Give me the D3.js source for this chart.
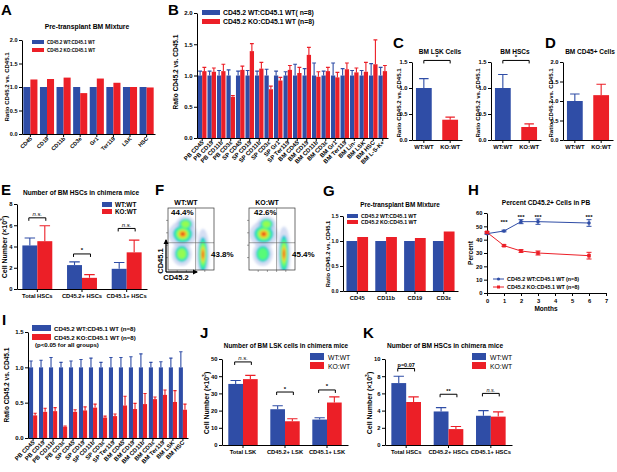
<!DOCTYPE html>
<html>
<head>
<meta charset="utf-8">
<script src="https://cdn.jsdelivr.net/npm/d3@7"></script>
<style>
  body { margin: 0; background: #fff; }
  svg { font-family: "Liberation Sans", Arial, sans-serif; font-weight: bold; }
</style>
</head>
<body>
<script>
// ---------- data ----------
var aCats = ["CD45", "CD19", "CD11b", "CD3e", "Gr1", "Ter119", "LSK", "HSC"];
var aWT = [1, 1, 1, 1, 1, 1, 1, 1];
var aKO = [1.16, 1.17, 1.20, 0.87, 1.18, 1.09, 1.00, 0.99];

var bCats = ["PB CD45", "PB CD19", "PB CD11b", "PB CD3ε", "SP CD45", "SP CD19", "SP CD11b", "SP CD3ε",
  "SP Gr1", "SP Ter119", "BM CD45", "BM CD19", "BM CD11b", "BM CD3ε", "BM Gr1", "BM Ter119",
  "BM Lin-", "BM LSK", "BM HSC", "BM L-S-K+"];
var bWT = [1, 1, 1, 1, 1, 1, 1, 1, 1, 1, 1, 1, 1, 1, 1, 1, 1, 1, 1, 1];
var bWTsem = [0.07, 0.07, 0.08, 0.09, 0.07, 0.08, 0.07, 0.10, 0.07, 0.06, 0.18, 0.11, 0.20, 0.07, 0.20, 0.11, 0.08, 0.08, 0.19, 0.13];
var bKO = [1.07, 1.06, 1.07, 0.66, 1.09, 1.39, 1.11, 0.78, 0.92, 1.09, 1.04, 1.33, 0.98, 1.07, 0.97, 1.10, 1.05, 1.06, 1.18, 1.07];
var bKOsem = [0.06, 0.06, 0.11, 0.02, 0.06, 0.12, 0.10, 0.05, 0.05, 0.07, 0.09, 0.12, 0.08, 0.06, 0.08, 0.10, 0.07, 0.15, 0.39, 0.09];

var cGroups = ["WT:WT", "KO:WT"];
var cLsk = [1.0, 0.39], cLskSem = [0.18, 0.05];
var cHsc = [1.0, 0.25], cHscSem = [0.26, 0.06];
var dCd45 = [1.0, 1.15], dCd45Sem = [0.18, 0.28];

var eCats = ["Total HSCs", "CD45.2+ HSCs", "CD45.1+ HSCs"];
var eWT = [4.1, 2.25, 1.9], eWTsem = [0.7, 0.3, 0.6];
var eKO = [4.5, 1.05, 3.45], eKOsem = [1.45, 0.3, 1.15];
var eSig = ["n.s.", "*", "n.s."], eSigY = [6.7, 3.3, 5.7];

// flow plots: blobs are [x, y, rx, ry, peak] in log decades
var fPlots = [
  { title: "WT:WT", ul: "44.4%", lr: "43.8%",
    blobs: [[1.6, 2.9, 1.2, 0.8, 1], [1.9, 3.7, 0.8, 0.5, 0.55], [1.5, 1.3, 0.85, 0.75, 0.45], [3.8, 1.25, 0.55, 1.6, 0.9]] },
  { title: "KO:WT", ul: "42.6%", lr: "45.4%",
    blobs: [[1.6, 2.9, 1.2, 0.8, 1], [1.9, 3.7, 0.8, 0.5, 0.5], [1.5, 1.3, 0.85, 0.75, 0.4], [3.8, 1.3, 0.55, 1.7, 0.95]] }
];
var fGate = [3.0, 2.2];

var gCats = ["CD45", "CD11b", "CD19", "CD3ε"];
var gWT = [1, 1, 1, 1];
var gKO = [1.08, 1.08, 1.06, 1.19];

var hMonths = [0, 1, 2, 3, 6];
var hWT = [44.5, 46.5, 53.5, 53.5, 52.5], hWTsem = [0.5, 0.6, 1.5, 2, 2.5];
var hKO = [45.5, 35.5, 31.5, 30, 28], hKOsem = [0.6, 0.6, 1, 1.5, 2.5];
var hStars = [null, 54, 57.5, 57.5, 57.5];

var iCats = ["PB CD45", "PB CD19", "PB CD11b", "PB CD3ε", "SP CD45", "SP CD19", "SP CD11b", "SP CD3ε",
  "SP Ter119", "BM CD45", "BM CD19", "BM CD11b", "BM CD3ε", "BM Ter119", "BM LSK", "BM HSC"];
var iWT = [1, 1, 1, 1, 1, 1, 1, 1, 1, 1, 1, 1, 1, 1, 1, 1];
var iWTsem = [0.09, 0.10, 0.14, 0.07, 0.09, 0.11, 0.13, 0.07, 0.14, 0.14, 0.15, 0.19, 0.07, 0.08, 0.13, 0.22];
var iKO = [0.32, 0.37, 0.38, 0.16, 0.37, 0.39, 0.43, 0.29, 0.31, 0.46, 0.41, 0.48, 0.55, 0.61, 0.51, 0.40];
var iKOsem = [0.03, 0.05, 0.05, 0.01, 0.03, 0.05, 0.05, 0.02, 0.03, 0.13, 0.08, 0.15, 0.03, 0.07, 0.16, 0.08];

var jCats = ["Total LSK", "CD45.2+ LSK", "CD45.1+ LSK"];
var jWT = [35.5, 20.8, 14.8], jWTsem = [2, 2, 1];
var jKO = [38.3, 13.8, 24.7], jKOsem = [2.2, 1.5, 3.3];
var jSig = ["n.s.", "*", "*"], jSigY = [48.3, 30.8, 32];

var kCats = ["Total HSCs", "CD45.2+ HSCs", "CD45.1+ HSCs"];
var kWT = [7.2, 3.9, 3.4], kWTsem = [0.8, 0.45, 0.6];
var kKO = [5.0, 1.85, 3.3], kKOsem = [0.6, 0.3, 0.55];
var kSig = ["p=0.07", "**", "n.s."], kSigY = [8.9, 5.9, 6.0];

var BLUE = "#2f4da6", RED = "#ec1f27";

var svg = d3.select("body").append("svg").attr("width", 617).attr("height", 472);

// ---------- helpers ----------
function txt(t, x, y, fs, anchor, rot, weight) {
  var el = svg.append("text").attr("x", x).attr("y", y).attr("font-size", fs)
    .attr("text-anchor", anchor || "start").text(t);
  if (rot) el.attr("transform", "rotate(" + rot + "," + x + "," + y + ")");
  if (weight) el.attr("font-weight", weight);
  return el;
}

function cellLabel(x, y) {
  var el = svg.append("text").attr("font-size", 7).attr("text-anchor", "middle")
    .attr("transform", "translate(" + x + "," + y + ") rotate(-90)");
  el.append("tspan").text("Cell Number (×10");
  el.append("tspan").attr("font-size", 5).attr("dy", -3).text("3");
  el.append("tspan").attr("dy", 3).text(")");
}

function bars(o) {
  var g = svg.append("g");
  var x = d3.scaleBand().domain(o.cats).range(o.xr).paddingInner(o.pi).paddingOuter(o.po);
  var y = d3.scaleLinear().domain([0, o.ymax]).range(o.yr);
  var bw = x.bandwidth() / o.series.length;
  o.series.forEach(function(s, k) {
    var col = function(i) { return Array.isArray(s.c) ? s.c[i] : s.c; };
    var cx = function(i) { return x(o.cats[i]) + k * bw + bw / 2; };
    g.selectAll(null).data(s.v).join("rect")
      .attr("x", function(d, i) { return x(o.cats[i]) + k * bw; })
      .attr("y", function(d) { return y(d); })
      .attr("width", bw)
      .attr("height", function(d) { return y(0) - y(d); })
      .attr("fill", function(d, i) { return col(i); });
    if (s.e) {
      g.selectAll(null).data(s.e).join("path")
        .attr("d", function(d, i) {
          var t = y(s.v[i] + d), w = bw * (o.cap || 0.3);
          return "M" + cx(i) + "," + y(s.v[i]) + "V" + t + "M" + (cx(i) - w) + "," + t + "H" + (cx(i) + w);
        })
        .attr("stroke", function(d, i) { return col(i); })
        .attr("stroke-width", 1.1).attr("fill", "none");
    }
  });
  var ya = g.append("g").attr("transform", "translate(" + o.xr[0] + ",0)")
    .call(d3.axisLeft(y).tickValues(o.ticks).tickFormat(o.fmt || d3.format(".1f")).tickSize(3).tickSizeOuter(0));
  var xa = g.append("g").attr("transform", "translate(0," + o.yr[0] + ")")
    .call(d3.axisBottom(x).tickSize(3).tickSizeOuter(0));
  [ya, xa].forEach(function(a) {
    a.attr("font-family", null).attr("font-size", o.fs || 6);
    a.select(".domain").attr("stroke-width", 1);
  });
  ya.selectAll("text").attr("x", -4.5);
  if (o.yfs) ya.attr("font-size", o.yfs);
  if (o.rot) {
    xa.selectAll("text").attr("y", 0).attr("dy", 0).attr("text-anchor", "end")
      .attr("transform", "translate(2," + o.rot + ") rotate(-45)");
  } else {
    xa.selectAll("text").attr("y", 5);
  }
  return { x: x, y: y, bw: bw };
}

function bracket(x1, x2, yy, t, fs, italic) {
  svg.append("path").attr("d", "M" + x1 + "," + (yy + 3) + "V" + yy + "H" + x2 + "V" + (yy + 3))
    .attr("stroke", "#000").attr("fill", "none").attr("stroke-width", 1);
  var el = txt(t, (x1 + x2) / 2, yy - 1.5, fs || 6, "middle");
  if (italic) el.attr("font-style", "italic").attr("font-weight", "normal");
}

function legendBox(x, y, w, h, color, label, fs, tx) {
  svg.append("rect").attr("x", x).attr("y", y).attr("width", w).attr("height", h).attr("fill", color);
  return txt(label, x + w + (tx || 3), y + h, fs);
}

function groupSig(p, cats, sig, sigY, fs) {
  sig.forEach(function(s, i) {
    var x1 = p.x(cats[i]) + p.bw / 2 - 1, x2 = p.x(cats[i]) + p.bw * 1.5 + 1;
    bracket(x1, x2, p.y(sigY[i]), s, fs, s === "n.s.");
  });
}

// ---------- panel letters ----------
[["A", 1, 15], ["B", 168, 15], ["C", 393, 48], ["D", 545, 48], ["E", 1, 195], ["F", 155, 195],
 ["G", 323, 196], ["H", 468, 195], ["I", 2, 325], ["J", 200, 338], ["K", 363, 338]].forEach(function(l) {
  txt(l[0], l[1], l[2], 15);
});

// ---------- A ----------
txt("Pre-transplant BM Mixture", 87, 29, 6.8, "middle");
bars({ cats: aCats, xr: [22, 155], yr: [134, 40], pi: 0.15, po: 0.08, ymax: 2, ticks: [0, 0.5, 1, 1.5, 2],
  series: [{ v: aWT, c: BLUE }, { v: aKO, c: RED }], rot: 5, fs: 5.5 });
txt("Ratio CD45.2 vs. CD45.1", 9, 87, 6, "middle", -90);
legendBox(32, 40, 12, 4, BLUE, "CD45.2 WT:CD45.1 WT", 4.5);
legendBox(32, 48, 12, 4, RED, "CD45.2 KO:CD45.1 WT", 4.5);

// ---------- B ----------
bars({ cats: bCats, xr: [197, 388], yr: [138, 13], pi: 0.1, po: 0.1, ymax: 2, ticks: [0, 0.5, 1, 1.5, 2],
  series: [{ v: bWT, e: bWTsem, c: BLUE }, { v: bKO, e: bKOsem, c: RED }], rot: 5, fs: 6, cap: 0.45 });
txt("Ratio CD45.2 vs. CD45.1", 178, 72, 6.5, "middle", -90);
legendBox(202, 10, 18, 5, BLUE, "CD45.2 WT:CD45.1 WT( n=8)", 6.8);
legendBox(202, 19, 18, 5, RED, "CD45.2 KO:CD45.1 WT (n=8)", 6.8);

// ---------- C ----------
txt("BM LSK Cells", 440, 54, 6.5, "middle");
var pc1 = bars({ cats: cGroups, xr: [412, 462], yr: [140, 62], pi: 0.4, po: 0.15, ymax: 1.5, ticks: [0, 0.5, 1, 1.5],
  series: [{ v: cLsk, e: cLskSem, c: [BLUE, RED] }], fs: 5.8, cap: 0.3 });
bracket(pc1.x("WT:WT") + pc1.bw / 2, pc1.x("KO:WT") + pc1.bw / 2, pc1.y(1.53), "*", 6);
txt("Ratio CD45.2 vs. CD45.1", 401, 103, 6, "middle", -90);

txt("BM HSCs", 515, 54, 6.5, "middle");
var pc2 = bars({ cats: cGroups, xr: [491, 541], yr: [140, 62], pi: 0.4, po: 0.15, ymax: 1.5, ticks: [0, 0.5, 1, 1.5],
  series: [{ v: cHsc, e: cHscSem, c: [BLUE, RED] }], fs: 5.8, cap: 0.3 });
bracket(pc2.x("WT:WT") + pc2.bw / 2, pc2.x("KO:WT") + pc2.bw / 2, pc2.y(1.53), "*", 6);
txt("Ratio CD45.2 vs. CD45.1", 480, 103, 6, "middle", -90);

// ---------- D ----------
txt("BM CD45+ Cells", 590, 54, 6.5, "middle");
bars({ cats: cGroups, xr: [563, 613], yr: [140, 62], pi: 0.4, po: 0.15, ymax: 2, ticks: [0, 0.5, 1, 1.5, 2],
  series: [{ v: dCd45, e: dCd45Sem, c: [BLUE, RED] }], fs: 5.8, cap: 0.3 });
txt("Ratio CD45.2 vs. CD45.1", 553, 103, 6, "middle", -90);

// ---------- E ----------
txt("Number of BM HSCs in chimera mice", 81, 195, 6.6, "middle");
var pe = bars({ cats: eCats, xr: [17, 147], yr: [289, 204], pi: 0.33, po: 0.12, ymax: 8, ticks: [0, 2, 4, 6, 8],
  fmt: d3.format("d"), series: [{ v: eWT, e: eWTsem, c: BLUE }, { v: eKO, e: eKOsem, c: RED }], fs: 5.8, cap: 0.35 });
groupSig(pe, eCats, eSig, eSigY, 6);
cellLabel(7, 247);
legendBox(102, 202, 10, 5, BLUE, "WT:WT", 6.4);
legendBox(102, 209, 10, 5, RED, "KO:WT", 6.4);

// ---------- F ----------
var defs = svg.append("defs");
defs.append("filter").attr("id", "soft").append("feGaussianBlur").attr("stdDeviation", 0.8);
fPlots.forEach(function(p, n) {
  var left = n === 0 ? 168 : 249;
  var fx = d3.scaleLinear().domain([0, 5]).range([left, left + 46]);
  var fy = d3.scaleLinear().domain([0, 5]).range([270, 208]);
  defs.append("clipPath").attr("id", "fclip" + n).append("rect")
    .attr("x", left).attr("y", 208).attr("width", 46).attr("height", 62);
  var g = svg.append("g").attr("clip-path", "url(#fclip" + n + ")");
  var dens = g.append("g").attr("filter", "url(#soft)");
  var N = 9;
  for (var j = 0; j <= N; j++) {
    var f = j / N;
    p.blobs.forEach(function(b) {
      if (f > b[4] + 0.001) return;
      var k = j === 0 ? 1.3 : 0.1 + 0.9 * Math.pow(1 - f, 1.3);
      dens.append("ellipse")
        .attr("cx", fx(b[0])).attr("cy", fy(b[1]))
        .attr("rx", fx(b[0] + b[2] * k) - fx(b[0]))
        .attr("ry", fy(b[1]) - fy(b[1] + b[3] * k))
        .attr("fill", j === 0 ? "#b3c3ea" : d3.interpolateTurbo(0.18 + 0.72 * f))
        .attr("opacity", j === 0 ? 0.55 : 1);
    });
  }
  g.append("line").attr("x1", fx(fGate[0])).attr("x2", fx(fGate[0])).attr("y1", 208).attr("y2", 270)
    .attr("stroke", "#666").attr("stroke-width", 0.6);
  g.append("line").attr("x1", left).attr("x2", left + 46).attr("y1", fy(fGate[1])).attr("y2", fy(fGate[1]))
    .attr("stroke", "#666").attr("stroke-width", 0.6);
  svg.append("rect").attr("x", left).attr("y", 208).attr("width", 46).attr("height", 62)
    .attr("fill", "none").attr("stroke", "#333").attr("stroke-width", 0.7);
  // decade ticks
  d3.range(1, 5).forEach(function(d) {
    svg.append("line").attr("x1", fx(d)).attr("x2", fx(d)).attr("y1", 270).attr("y2", 272).attr("stroke", "#444").attr("stroke-width", 0.5);
    svg.append("line").attr("x1", left).attr("x2", left - 2).attr("y1", fy(d)).attr("y2", fy(d)).attr("stroke", "#444").attr("stroke-width", 0.5);
  });
  txt(p.title, left + 18, 205, 7, "middle");
  txt(p.ul, left + (n === 0 ? 3 : 5), 215, 8);
  txt(p.lr, left + 43, 257, 8);
});
// CD45 arrows
defs.append("marker").attr("id", "arr").attr("viewBox", "0 0 10 10").attr("refX", 8).attr("refY", 5)
  .attr("markerWidth", 4).attr("markerHeight", 4).attr("orient", "auto")
  .append("path").attr("d", "M0,0L10,5L0,10z").attr("fill", "#000");
svg.append("path").attr("d", "M166,272V240").attr("stroke", "#000").attr("stroke-width", 1.3).attr("marker-end", "url(#arr)");
svg.append("path").attr("d", "M166,272H197").attr("stroke", "#000").attr("stroke-width", 1.3).attr("marker-end", "url(#arr)");
txt("CD45.1", 163, 261, 7.5, "middle", -90);
txt("CD45.2", 176, 280, 7.5, "middle");

// ---------- G ----------
txt("Pre-transplant BM Mixture", 400, 207, 6.4, "middle");
bars({ cats: gCats, xr: [343, 458], yr: [291, 216], pi: 0.25, po: 0.12, ymax: 1.5, ticks: [0, 0.5, 1, 1.5],
  series: [{ v: gWT, c: BLUE }, { v: gKO, c: RED }], fs: 5.8, yfs: 5 });
txt("Ratio CD45.2 vs. CD45.1", 330, 254, 5.8, "middle", -90);
legendBox(347, 214, 11, 4, BLUE, "CD45.2 WT:CD45.1 WT", 5.2);
legendBox(347, 220, 11, 4, RED, "CD45.2 KO:CD45.1 WT", 5.2);

// ---------- H ----------
txt("Percent CD45.2+ Cells in PB", 546, 205, 6.6, "middle");
var hx = d3.scaleLinear().domain([0, 7]).range([487, 606]);
var hy = d3.scaleLinear().domain([0, 60]).range([293, 213]);
var hxa = svg.append("g").attr("transform", "translate(0,293)")
  .call(d3.axisBottom(hx).ticks(7).tickSize(3).tickSizeOuter(0));
var hya = svg.append("g").attr("transform", "translate(487,0)")
  .call(d3.axisLeft(hy).tickValues(d3.range(0, 61, 10)).tickSize(3).tickSizeOuter(0));
[hxa, hya].forEach(function(a) { a.attr("font-family", null).attr("font-size", 5.8); });
hya.selectAll("text").attr("x", -4.5);
txt("Percent", 473, 253, 6.5, "middle", -90);
txt("Months", 546, 311, 6.5, "middle");
[[hWT, hWTsem, BLUE, "circle"], [hKO, hKOsem, RED, "square"]].forEach(function(s) {
  var line = d3.line().x(function(d, i) { return hx(hMonths[i]); }).y(function(d) { return hy(d); });
  svg.append("path").attr("d", line(s[0])).attr("fill", "none").attr("stroke", s[2]).attr("stroke-width", 1);
  svg.selectAll(null).data(s[0]).join("path")
    .attr("d", function(d, i) {
      var cx = hx(hMonths[i]), t = hy(d + s[1][i]), b = hy(d - s[1][i]);
      return "M" + cx + "," + b + "V" + t + "M" + (cx - 2.5) + "," + t + "H" + (cx + 2.5) + "M" + (cx - 2.5) + "," + b + "H" + (cx + 2.5);
    })
    .attr("stroke", s[2]).attr("stroke-width", 1).attr("fill", "none");
  svg.selectAll(null).data(s[0]).join(s[3] === "circle" ? "circle" : "rect")
    .each(function(d, i) {
      var el = d3.select(this);
      if (s[3] === "circle") el.attr("cx", hx(hMonths[i])).attr("cy", hy(d)).attr("r", 1.8);
      else el.attr("x", hx(hMonths[i]) - 1.8).attr("y", hy(d) - 1.8).attr("width", 3.6).attr("height", 3.6);
    })
    .attr("fill", s[2]);
});
hStars.forEach(function(v, i) { if (v != null) txt("***", hx(hMonths[i]), hy(v) + 3, 6, "middle"); });
svg.append("path").attr("d", "M493,279H504").attr("stroke", BLUE).attr("stroke-width", 1);
svg.append("circle").attr("cx", 498.5).attr("cy", 279).attr("r", 1.6).attr("fill", BLUE);
txt("CD45.2 WT:CD45.1 WT (n=8)", 507, 281, 5.4);
svg.append("path").attr("d", "M493,287H504").attr("stroke", RED).attr("stroke-width", 1);
svg.append("rect").attr("x", 497).attr("y", 285.5).attr("width", 3).attr("height", 3).attr("fill", RED);
txt("CD45.2 KO:CD45.1 WT (n=8)", 507, 289, 5.4);

// ---------- I ----------
bars({ cats: iCats, xr: [28, 188], yr: [438, 332], pi: 0.18, po: 0.1, ymax: 1.5, ticks: [0, 0.5, 1, 1.5],
  series: [{ v: iWT, e: iWTsem, c: BLUE }, { v: iKO, e: iKOsem, c: RED }], rot: 5, fs: 6, cap: 0.4 });
txt("Ratio CD45.2 vs. CD45.1", 9, 385, 6.5, "middle", -90);
legendBox(32, 325, 19, 6, BLUE, "CD45.2 WT:CD45.1 WT (n=8)", 6.1);
legendBox(32, 334, 19, 6, RED, "CD45.2 KO:CD45.1 WT (n=8)", 6.1);
txt("(p<0.05 for all groups)", 35, 347, 6.1);

// ---------- J ----------
txt("Number of BM LSK cells in chimera mice", 286, 348, 6.4, "middle");
var pj = bars({ cats: jCats, xr: [222, 348], yr: [445, 359], pi: 0.3, po: 0.15, ymax: 50, ticks: [0, 10, 20, 30, 40, 50],
  fmt: d3.format("d"), series: [{ v: jWT, e: jWTsem, c: BLUE }, { v: jKO, e: jKOsem, c: RED }], fs: 5.8, cap: 0.35 });
groupSig(pj, jCats, jSig, jSigY, 6);
cellLabel(209, 403);
legendBox(310, 353, 14, 7, BLUE, "WT:WT", 6.8, 4).attr("font-weight", "normal");
legendBox(310, 362, 14, 7, RED, "KO:WT", 6.8, 4).attr("font-weight", "normal");

// ---------- K ----------
txt("Number of BM HSCs in chimera mice", 445, 348, 6.6, "middle");
var pk = bars({ cats: kCats, xr: [385, 512], yr: [445, 359], pi: 0.3, po: 0.15, ymax: 10, ticks: [0, 2, 4, 6, 8, 10],
  fmt: d3.format("d"), series: [{ v: kWT, e: kWTsem, c: BLUE }, { v: kKO, e: kKOsem, c: RED }], fs: 5.8, cap: 0.35 });
groupSig(pk, kCats, kSig, kSigY, 5.5);
cellLabel(372, 403);
legendBox(472, 353, 14, 7, BLUE, "WT:WT", 6.8, 4).attr("font-weight", "normal");
legendBox(472, 362, 14, 7, RED, "KO:WT", 6.8, 4).attr("font-weight", "normal");
</script>
</body>
</html>
